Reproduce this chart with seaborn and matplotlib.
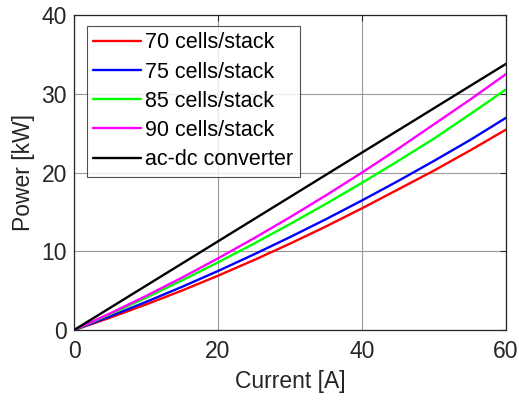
import numpy as np
import pandas as pd
import matplotlib
matplotlib.use("Agg")
import matplotlib.pyplot as plt
import seaborn as sns

# Stack current [A]
current = [0, 5, 10, 15, 20, 25, 30, 35, 40, 45, 50, 55, 60]

# Stack output power [kW] for each stack size
p70 = [0, 1.57, 3.25, 5.02, 6.90, 8.89, 10.97, 13.16, 15.46, 17.85, 20.25, 22.80, 25.45]
p75 = [0, 1.74, 3.57, 5.49, 7.50, 9.61, 11.80, 14.08, 16.46, 18.92, 21.48, 24.12, 26.95]
p85 = [0, 2.01, 4.11, 6.31, 8.60, 10.98, 13.46, 16.03, 18.70, 21.46, 24.31, 27.40, 30.55]
p90 = [0, 2.11, 4.33, 6.66, 9.10, 11.66, 14.33, 17.11, 20.00, 23.01, 26.13, 29.25, 32.50]

# ac-dc converter rating
conv_current = [0, 60]
conv_power = [0, 33.8]

labels = ["70 cells/stack", "75 cells/stack", "85 cells/stack",
          "90 cells/stack", "ac-dc converter"]
colors = ["#ff0000", "#0000ff", "#00ff00", "#ff00ff", "#000000"]

frames = []
for lab, vals in zip(labels[:4], [p70, p75, p85, p90]):
    frames.append(pd.DataFrame({"Current": current, "Power": vals, "Series": lab}))
frames.append(pd.DataFrame({"Current": conv_current, "Power": conv_power,
                            "Series": labels[4]}))
df = pd.concat(frames, ignore_index=True)

sns.set_theme(style="white")
plt.rcParams["font.family"] = ["Liberation Sans", "DejaVu Sans"]

fig = plt.figure(figsize=(5.19, 4.05), dpi=100)
ax = fig.add_axes([0.1426, 0.185, 0.8324, 0.778])

sns.lineplot(data=df, x="Current", y="Power", hue="Series",
             hue_order=labels, palette=dict(zip(labels, colors)),
             linewidth=1.7, ax=ax, sort=False, estimator=None)

ax.set_xlim(0, 60)
ax.set_ylim(0, 40)
ax.set_xticks([0, 20, 40, 60])
ax.set_yticks([0, 10, 20, 30, 40])
ax.grid(True, color="#9a9a9a", linewidth=0.8)
ax.set_axisbelow(True)

text_color = "#262626"
ax.set_xlabel("Current [A]", fontsize=16.5, color=text_color, labelpad=5)
ax.set_ylabel("Power [kW]", fontsize=16.5, color=text_color, labelpad=5)
ax.tick_params(direction="in", top=True, right=True, length=4,
               labelsize=16.5, colors=text_color, width=0.8)
ax.tick_params(axis="x", pad=7)
ax.tick_params(axis="y", pad=5)
for sp in ax.spines.values():
    sp.set_color(text_color)
    sp.set_linewidth(0.9)

leg = ax.legend(loc="upper left", bbox_to_anchor=(0.03, 0.965),
                fontsize=15.5, frameon=True, fancybox=False,
                handlelength=2.2, handletextpad=0.2, labelspacing=0.38,
                borderpad=0.3, borderaxespad=0.0)
leg.get_frame().set_edgecolor(text_color)
leg.get_frame().set_linewidth(0.8)
for t in leg.get_texts():
    t.set_color("#000000")

fig.savefig("out.png", dpi=100)
